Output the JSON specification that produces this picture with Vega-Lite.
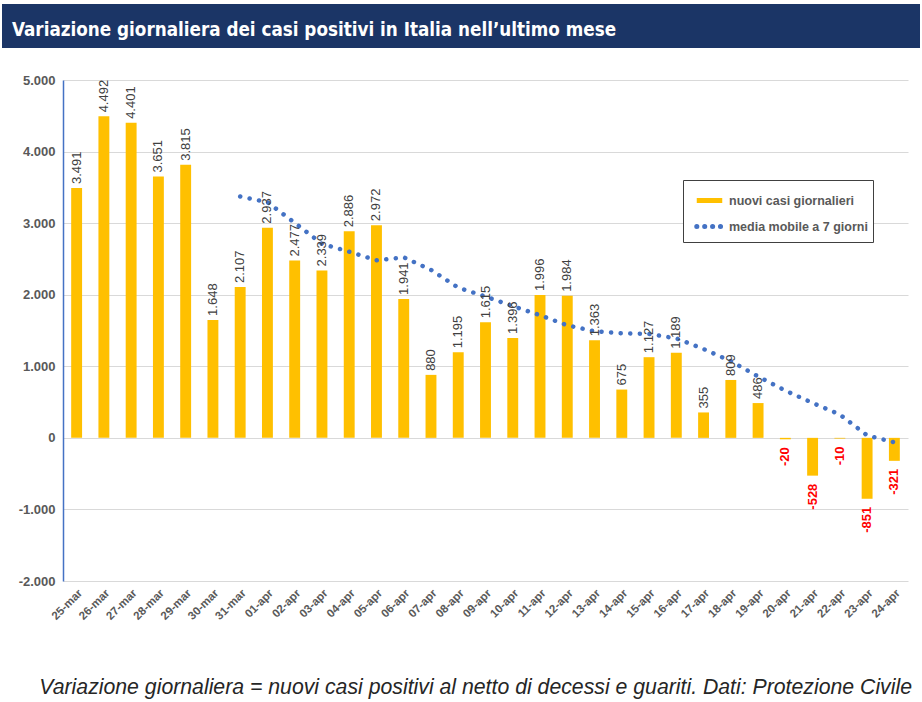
{
  "$schema": "https://vega.github.io/schema/vega-lite/v6.json",
  "background": "white",
  "padding": {"left": 2, "top": 4, "right": 2, "bottom": 5},
  "config": {
    "locale": {"number": {"decimal": ",", "thousands": ".", "grouping": [3], "currency": ["€", ""], "minus": "-"}},
    "font": "Liberation Sans",
    "view": {"stroke": null},
    "concat": {"spacing": 26}
  },
  "datasets": {
    "casi": [
      {"d": "25-mar", "v": 3491},
      {"d": "26-mar", "v": 4492},
      {"d": "27-mar", "v": 4401},
      {"d": "28-mar", "v": 3651},
      {"d": "29-mar", "v": 3815},
      {"d": "30-mar", "v": 1648},
      {"d": "31-mar", "v": 2107, "ma": 3372},
      {"d": "01-apr", "v": 2937, "ma": 3293},
      {"d": "02-apr", "v": 2477, "ma": 3005},
      {"d": "03-apr", "v": 2339, "ma": 2711},
      {"d": "04-apr", "v": 2886, "ma": 2601},
      {"d": "05-apr", "v": 2972, "ma": 2481},
      {"d": "06-apr", "v": 1941, "ma": 2523},
      {"d": "07-apr", "v": 880, "ma": 2347},
      {"d": "08-apr", "v": 1195, "ma": 2099},
      {"d": "09-apr", "v": 1615, "ma": 1975},
      {"d": "10-apr", "v": 1396, "ma": 1841},
      {"d": "11-apr", "v": 1996, "ma": 1714},
      {"d": "12-apr", "v": 1984, "ma": 1572},
      {"d": "13-apr", "v": 1363, "ma": 1490},
      {"d": "14-apr", "v": 675, "ma": 1461},
      {"d": "15-apr", "v": 1127, "ma": 1451},
      {"d": "16-apr", "v": 1189, "ma": 1390},
      {"d": "17-apr", "v": 355, "ma": 1241},
      {"d": "18-apr", "v": 809, "ma": 1072},
      {"d": "19-apr", "v": 486, "ma": 858},
      {"d": "20-apr", "v": -20, "ma": 660},
      {"d": "21-apr", "v": -528, "ma": 488},
      {"d": "22-apr", "v": -10, "ma": 326},
      {"d": "23-apr", "v": -851, "ma": 34},
      {"d": "24-apr", "v": -321, "ma": -62}
    ]
  },
  "columns": 1,
  "concat": [
    {
      "width": 918,
      "height": 44,
      "view": {"fill": "#1b3566", "stroke": null},
      "data": {"values": [{"t": "Variazione giornaliera dei casi positivi in Italia nell’ultimo mese"}]},
      "mark": {"type": "text", "align": "left", "baseline": "alphabetic", "color": "white", "font": "'DejaVu Sans Condensed', 'Liberation Sans'", "fontWeight": "bold", "fontSize": 18.7},
      "encoding": {"text": {"field": "t"}, "x": {"value": 10}, "y": {"value": 32}}
    },
    {
      "width": 906,
      "height": 501,
      "title": {
        "text": "Variazione giornaliera = nuovi casi positivi al netto di decessi e guariti. Dati: Protezione Civile",
        "orient": "bottom", "anchor": "end", "fontStyle": "italic", "fontWeight": "normal",
        "fontSize": 21.25, "color": "#262626", "offset": 55, "dx": 4, "frame": "bounds"
      },
      "data": {"name": "casi"},
      "encoding": {
        "x": {
          "field": "d", "type": "nominal", "sort": null,
          "scale": {"paddingInner": 0.6, "paddingOuter": 0.3, "range": [61, 906]},
          "axis": {"title": null, "labelAngle": -45, "labelFontWeight": "bold", "labelFontSize": 11.5, "labelColor": "#595959", "domain": false, "ticks": false, "grid": false, "labelPadding": 6}
        }
      },
      "layer": [
        {
          "mark": {"type": "bar"},
          "encoding": {
            "y": {
              "field": "v", "type": "quantitative",
              "scale": {"domain": [-2000, 5000], "nice": false},
              "axis": {"title": null, "offset": -61, "values": [-2000, -1000, 0, 1000, 2000, 3000, 4000, 5000], "format": ",d", "labelFontWeight": "bold", "labelFontSize": 13, "labelColor": "#595959", "gridColor": "#D9D9D9", "domainColor": "#4472C4", "domainWidth": 1.5, "ticks": false, "labelPadding": 8}
            },
            "color": {
              "datum": "nuovi casi giornalieri", "type": "nominal",
              "scale": {"domain": ["nuovi casi giornalieri", "media mobile a 7 giorni"], "range": ["#FFC000", "#4472C4"]},
              "legend": {
                "title": null, "orient": "none", "legendX": 681, "legendY": 176,
                "symbolType": "stroke", "symbolSize": 650, "symbolStrokeWidth": 5, "symbolOffset": 6,
                "labelFontSize": 12.5, "labelFontWeight": "bold", "labelColor": "#595959",
                "strokeColor": "#404040", "fillColor": "white", "padding": 5, "rowPadding": 0, "labelOffset": 4,
                "encode": {
                  "symbols": {
                    "update": {
                      "stroke": {"scale": "color", "field": "value"},
                      "strokeWidth": {"value": 5},
                      "fill": {"value": "transparent"},
                      "opacity": {"value": 1},
                      "strokeDash": {"signal": "datum.value == 'media mobile a 7 giorni' ? [0.1, 7.8] : [40, 0]"},
                      "strokeCap": {"signal": "datum.value == 'media mobile a 7 giorni' ? 'round' : 'butt'"}
                    }
                  }
                }
              }
            }
          }
        },
        {
          "transform": [{"filter": "datum.ma != null"}],
          "mark": {"type": "line", "strokeDash": [0.1, 9.5], "strokeCap": "round", "strokeWidth": 4.5},
          "encoding": {
            "y": {"field": "ma", "type": "quantitative"},
            "color": {"datum": "media mobile a 7 giorni", "type": "nominal"}
          }
        },
        {
          "transform": [{"filter": "datum.v >= 0"}],
          "mark": {"type": "text", "angle": -90, "align": "left", "baseline": "middle", "dx": 4, "fontSize": 13, "color": "#404040"},
          "encoding": {
            "y": {"field": "v", "type": "quantitative"},
            "text": {"field": "v", "type": "quantitative", "format": ",d"}
          }
        },
        {
          "transform": [{"filter": "datum.v < 0"}],
          "mark": {"type": "text", "angle": -90, "align": "right", "baseline": "middle", "dx": -8, "fontSize": 13, "fontWeight": "bold", "color": "#FF0000"},
          "encoding": {
            "y": {"field": "v", "type": "quantitative"},
            "text": {"field": "v", "type": "quantitative", "format": ",d"}
          }
        }
      ]
    }
  ]
}
